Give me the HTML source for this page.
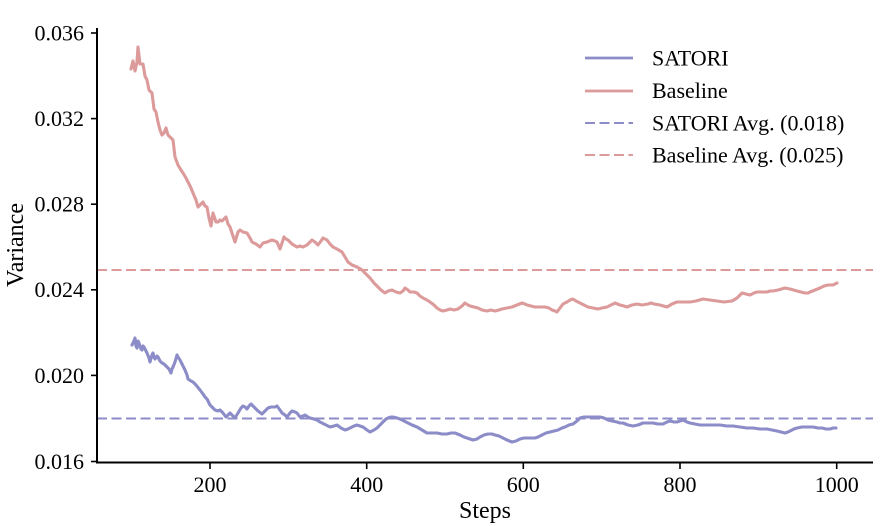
<!DOCTYPE html>
<html>
<head>
<meta charset="utf-8">
<style>
  html, body { margin: 0; padding: 0; background: #ffffff; }
  svg { display: block; }
  text { font-family: "Liberation Serif", "DejaVu Serif", serif; fill: #000; }
</style>
</head>
<body>
<svg width="882" height="526" viewBox="0 0 882 526" xmlns="http://www.w3.org/2000/svg">
  <rect x="0" y="0" width="882" height="526" fill="#ffffff"/>

  <!-- average lines -->
  <line x1="97" y1="270" x2="873" y2="270" stroke="#dc9a9a" stroke-width="2" stroke-dasharray="10 4.5"/>
  <line x1="97" y1="418.5" x2="873" y2="418.5" stroke="#8c8cc8" stroke-width="2" stroke-dasharray="10 4.5"/>

  <!-- Baseline series -->
  <polyline fill="none" stroke="#dc9a9a" stroke-width="3.1" stroke-linejoin="round" stroke-linecap="round"
    points="131,69 133,61 135,71 137,62 138,47 140,64 143,64 145,76 147,80 149,90 152,93 154,109 156,112 158,122 160,130 162,135 164,133 166,128 168,135 170,137 173,140 175,157 178,165 181,170 183,173 186,178 188,182 191,188 193,193 196,200 198,207 200,205 203,202 205,206 207,207 209,218 211,226 213,213 216,222 218,222 220,220 222,221 224,219 226,217 228,224 230,227 233,236 235,242 238,232 240,230 243,232 247,233 250,238 252,242 256,244 260,247 263,243 267,242 272,240 275,241 277,242 280,249 282,243 284,237 286,239 288,240 292,244 297,247 300,246 303,247 307,245 312,240 315,242 318,245 321,241 323,238 327,240 330,244 333,247 337,249 342,252 345,257 348,262 352,265 357,267 362,270 366,274 370,278 374,283 378,287 381,290 385,293 388,291 392,290 396,292 400,293 403,291 405,288 408,290 410,292 414,292 417,293 420,296 423,298 427,300 430,302 434,305 437,308 440,310 443,311 447,310 450,309 454,310 458,309 462,306 465,303 468,305 470,306 474,307 478,308 482,310 487,311 491,310 495,311 499,310 502,309 507,308 512,307 517,305 522,303 525,304 527,305 531,306 535,307 540,307 545,307 549,308 552,310 555,311 557,312 560,308 563,304 567,302 570,300 573,299 576,301 580,303 584,305 588,307 593,308 598,309 602,308 607,307 611,305 615,303 620,305 624,306 627,307 632,305 637,304 642,305 648,304 651,303 654,304 660,305 667,307 672,304 677,302 683,302 690,302 696,301 703,299 710,300 717,301 724,302 732,301 737,298 742,293 746,294 750,295 754,293 757,292 762,292 767,292 770,291 773,291 778,290 785,288 790,289 797,291 801,292 805,293 808,293 810,292 815,290 820,288 824,286 828,285 831,285 833,285 835,284 837,283"/>

  <!-- SATORI series -->
  <polyline fill="none" stroke="#8c8cc8" stroke-width="3.1" stroke-linejoin="round" stroke-linecap="round"
    points="132,345 134,341 135,338 136,346 137,348 138,341 139,343 141,349 142,350 143,346 144,347 146,351 147,353 149,358 150,362 152,355 153,353 154,357 155,359 157,356 158,357 160,361 162,363 164,364 167,367 169,369 171,373 172,369 173,367 175,362 177,355 178,357 180,360 182,364 185,370 187,375 188,379 191,381 193,382 196,385 200,390 203,394 205,397 207,399 209,403 210,405 212,407 215,410 218,411 220,410 223,413 226,417 228,415 230,413 233,416 235,418 238,413 241,408 243,406 245,407 247,409 249,406 251,404 253,406 255,408 258,411 262,414 265,411 268,408 271,407 273,407 275,407 277,406 280,410 282,413 285,415 287,417 290,413 292,411 295,412 297,413 300,417 303,416 305,415 308,417 310,418 314,419 317,420 320,422 322,423 326,425 330,427 334,426 337,425 341,428 345,430 348,429 350,428 354,426 357,425 360,426 363,427 367,430 370,432 374,430 377,428 380,425 383,422 386,419 388,418 391,417 393,417 397,418 400,419 404,421 408,423 412,425 417,427 422,430 427,433 432,433 437,433 442,434 447,434 451,433 455,433 460,435 464,437 467,438 470,439 473,440 477,439 480,437 484,435 488,434 492,434 495,435 499,436 503,438 507,440 512,442 516,441 520,439 524,438 527,438 531,438 535,438 538,437 542,435 546,433 550,432 554,431 558,430 562,428 565,427 569,425 573,424 577,421 580,418 584,417 587,417 591,417 595,417 598,417 600,417 604,418 608,420 612,421 617,422 620,423 623,423 628,425 633,426 638,425 643,423 648,423 653,423 658,424 663,424 667,422 670,421 674,422 677,422 680,421 683,420 687,422 690,423 695,424 700,425 706,425 713,425 720,425 727,426 733,426 740,427 747,428 753,428 760,429 767,429 772,430 777,431 781,432 785,433 788,432 790,431 794,429 797,428 802,427 807,427 810,427 813,427 818,428 822,428 826,429 830,429 833,428 836,428"/>

  <!-- axes -->
  <line x1="97" y1="28" x2="97" y2="463" stroke="#000" stroke-width="2"/>
  <line x1="96" y1="462.5" x2="873" y2="462.5" stroke="#000" stroke-width="2"/>

  <!-- y ticks -->
  <g stroke="#000" stroke-width="1.6">
    <line x1="91" y1="33" x2="97" y2="33"/>
    <line x1="91" y1="118.6" x2="97" y2="118.6"/>
    <line x1="91" y1="204.2" x2="97" y2="204.2"/>
    <line x1="91" y1="289.8" x2="97" y2="289.8"/>
    <line x1="91" y1="375.4" x2="97" y2="375.4"/>
    <line x1="91" y1="461.5" x2="97" y2="461.5"/>
  </g>
  <g font-size="22" text-anchor="end">
    <text x="84" y="40.5">0.036</text>
    <text x="84" y="126">0.032</text>
    <text x="84" y="211.5">0.028</text>
    <text x="84" y="297">0.024</text>
    <text x="84" y="383">0.020</text>
    <text x="84" y="469">0.016</text>
  </g>

  <!-- x ticks -->
  <g stroke="#000" stroke-width="1.6">
    <line x1="210" y1="463" x2="210" y2="469"/>
    <line x1="366.7" y1="463" x2="366.7" y2="469"/>
    <line x1="523.3" y1="463" x2="523.3" y2="469"/>
    <line x1="680" y1="463" x2="680" y2="469"/>
    <line x1="836.7" y1="463" x2="836.7" y2="469"/>
  </g>
  <g font-size="22" text-anchor="middle">
    <text x="210" y="492">200</text>
    <text x="366.7" y="492">400</text>
    <text x="523.3" y="492">600</text>
    <text x="680" y="492">800</text>
    <text x="836.7" y="492">1000</text>
  </g>

  <!-- axis labels -->
  <text x="485" y="518" font-size="24" text-anchor="middle">Steps</text>
  <text x="0" y="0" font-size="24" text-anchor="middle" transform="translate(23,245) rotate(-90)">Variance</text>

  <!-- legend -->
  <line x1="585" y1="58" x2="633" y2="58" stroke="#8c8cc8" stroke-width="2.8"/>
  <line x1="585" y1="91" x2="633" y2="91" stroke="#dc9a9a" stroke-width="2.8"/>
  <line x1="585" y1="123" x2="633" y2="123" stroke="#8c8cc8" stroke-width="2" stroke-dasharray="10 4.5"/>
  <line x1="585" y1="155" x2="633" y2="155" stroke="#dc9a9a" stroke-width="2" stroke-dasharray="10 4.5"/>
  <g font-size="22">
    <text x="652" y="65.5">SATORI</text>
    <text x="652" y="98">Baseline</text>
    <text x="652" y="130.5">SATORI Avg. (0.018)</text>
    <text x="652" y="162.5">Baseline Avg. (0.025)</text>
  </g>
</svg>
</body>
</html>
